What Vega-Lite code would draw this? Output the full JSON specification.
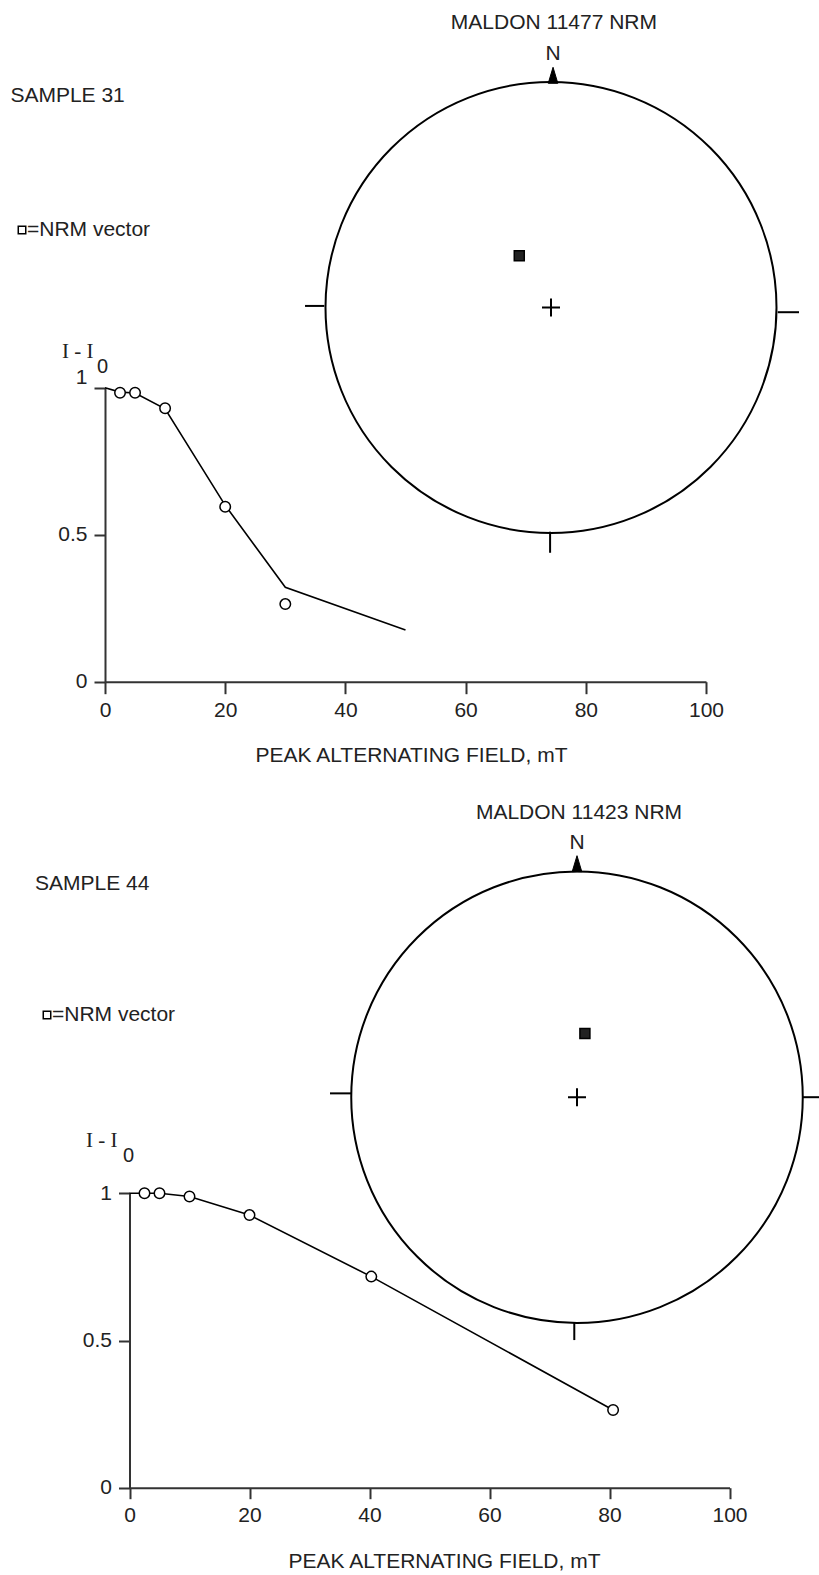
{
  "$schema": "https://vega.github.io/schema/vega-lite/v6.json",
  "width": 819,
  "height": 1575,
  "autosize": {"type": "none"},
  "padding": 0,
  "background": "white",
  "config": {
    "view": {"stroke": null},
    "font": "Liberation Sans",
    "axis": {
      "domainColor": "#333", "domainWidth": 2, "tickColor": "#333", "tickWidth": 2, "grid": false,
      "labelFont": "Liberation Sans", "labelFontSize": 21, "labelColor": "#222",
      "titleFont": "Liberation Sans", "titleFontSize": 21, "titleFontWeight": "normal", "titleColor": "#222",
      "labelFlush": false, "labelOverlap": false
    }
  },
  "datasets": {
    "s31_steps": [
      {"field": 2.5, "ratio": 0.983}, {"field": 5, "ratio": 0.983}, {"field": 10, "ratio": 0.93},
      {"field": 20, "ratio": 0.595}, {"field": 30, "ratio": 0.264}
    ],
    "s31_fit": [
      {"field": 0, "ratio": 1.0}, {"field": 2.5, "ratio": 0.985}, {"field": 5, "ratio": 0.982},
      {"field": 10, "ratio": 0.928}, {"field": 20, "ratio": 0.6}, {"field": 30, "ratio": 0.321},
      {"field": 50, "ratio": 0.176}
    ],
    "s44_steps": [
      {"field": 2.5, "ratio": 1.0}, {"field": 5, "ratio": 1.0}, {"field": 10, "ratio": 0.989},
      {"field": 20, "ratio": 0.926}, {"field": 40.3, "ratio": 0.717}, {"field": 80.6, "ratio": 0.264}
    ],
    "s44_fit": [
      {"field": 0, "ratio": 1.0}, {"field": 2.5, "ratio": 1.0}, {"field": 5, "ratio": 1.0},
      {"field": 10, "ratio": 0.989}, {"field": 20, "ratio": 0.926}, {"field": 40.3, "ratio": 0.717},
      {"field": 80.6, "ratio": 0.264}
    ],
    "net31_origin": [{"east": 0, "north": 0}],
    "net31_pole": [{"east": 0.009, "north": 1}],
    "net31_nrm": [{"east": -0.14, "north": 0.231}],
    "net31_ticks": [
      {"east": -1.085, "north": 0.007, "east2": -1, "north2": 0.007},
      {"east": 1, "north": -0.021, "east2": 1.094, "north2": -0.021},
      {"east": -0.004, "north": -1, "east2": -0.004, "north2": -1.094}
    ],
    "net44_origin": [{"east": 0, "north": 0}],
    "net44_pole": [{"east": 0, "north": 1}],
    "net44_nrm": [{"east": 0.035, "north": 0.283}],
    "net44_ticks": [
      {"east": -1.093, "north": 0.017, "east2": -1, "north2": 0.017},
      {"east": 1, "north": 0, "east2": 1.08, "north2": 0},
      {"east": -0.012, "north": -1, "east2": -0.012, "north2": -1.077}
    ]
  },
  "layer": [
    {
      "layer": [
        {
          "data": {"name": "s31_fit"},
          "mark": {"type": "line", "color": "black", "strokeWidth": 1.6},
          "encoding": {
            "x": {"field": "field", "type": "quantitative",
              "scale": {"domain": [0, 100], "range": [105, 706], "nice": false, "zero": false},
              "axis": {"orient": "bottom", "offset": -893.3, "values": [0, 20, 40, 60, 80, 100], "format": "d",
                "tickSize": 12, "labelPadding": 6, "title": "PEAK ALTERNATING FIELD, mT",
                "titleX": 411, "titleY": 80, "titleBaseline": "alphabetic"}},
            "y": {"field": "ratio", "type": "quantitative",
              "scale": {"domain": [0, 1], "range": [681.7, 387.7], "nice": false, "zero": false},
              "axis": {"orient": "left", "offset": -105, "values": [0, 0.5, 1], "format": "~g",
                "tickSize": 11, "labelPadding": 7, "title": null,
                "labelOffset": {"condition": {"test": "datum.value === 1", "value": -10}, "value": 0}}}
          }
        },
        {
          "data": {"name": "s31_steps"},
          "mark": {"type": "point", "shape": "circle", "size": 110, "filled": true, "fill": "white", "stroke": "black", "strokeWidth": 1.5, "opacity": 1},
          "encoding": {
            "x": {"field": "field", "type": "quantitative"},
            "y": {"field": "ratio", "type": "quantitative"}
          }
        },
        {
          "data": {"values": [{"label": "SAMPLE 31"}]},
          "mark": {"type": "text", "align": "left", "baseline": "middle", "font": "Liberation Sans", "fontSize": 21, "color": "#222"},
          "encoding": {"x": {"datum": -15.74}, "y": {"datum": 1.992}, "text": {"field": "label"}}
        },
        {
          "data": {"values": [{"label": "=NRM vector"}]},
          "mark": {"type": "text", "align": "left", "baseline": "middle", "font": "Liberation Sans", "fontSize": 21, "color": "#222"},
          "encoding": {"x": {"datum": -12.98}, "y": {"datum": 1.536}, "text": {"field": "label"}}
        },
        {
          "data": {"values": [{"label": "NRM vector"}]},
          "mark": {"type": "point", "shape": "square", "size": 56, "filled": false, "stroke": "black", "strokeWidth": 1.5, "opacity": 1},
          "encoding": {"x": {"datum": -13.81}, "y": {"datum": 1.536}}
        },
        {
          "data": {"values": [{"label": "I - I"}]},
          "mark": {"type": "text", "align": "left", "baseline": "alphabetic", "font": "Liberation Serif", "fontSize": 21, "color": "#222"},
          "encoding": {"x": {"datum": -7.155}, "y": {"datum": 1.101}, "text": {"field": "label"}}
        },
        {
          "data": {"values": [{"label": "0"}]},
          "mark": {"type": "text", "align": "left", "baseline": "alphabetic", "font": "Liberation Sans", "fontSize": 20, "color": "#222"},
          "encoding": {"x": {"datum": -1.331}, "y": {"datum": 1.05}, "text": {"field": "label"}}
        }
      ]
    },
    {
      "layer": [
        {
          "data": {"name": "s44_fit"},
          "mark": {"type": "line", "color": "black", "strokeWidth": 1.6},
          "encoding": {
            "x": {"field": "field", "type": "quantitative",
              "scale": {"domain": [0, 100], "range": [129.5, 729.5], "nice": false, "zero": false},
              "axis": {"orient": "bottom", "offset": -87.3, "values": [0, 20, 40, 60, 80, 100], "format": "d",
                "tickSize": 11, "labelPadding": 6, "title": "PEAK ALTERNATING FIELD, mT",
                "titleX": 444, "titleY": 80, "titleBaseline": "alphabetic"}},
            "y": {"field": "ratio", "type": "quantitative",
              "scale": {"domain": [0, 1], "range": [1487.7, 1193.3], "nice": false, "zero": false},
              "axis": {"orient": "left", "offset": -129.5, "values": [0, 0.5, 1], "format": "~g",
                "tickSize": 11, "labelPadding": 7, "title": null}}
          }
        },
        {
          "data": {"name": "s44_steps"},
          "mark": {"type": "point", "shape": "circle", "size": 110, "filled": true, "fill": "white", "stroke": "black", "strokeWidth": 1.5, "opacity": 1},
          "encoding": {
            "x": {"field": "field", "type": "quantitative"},
            "y": {"field": "ratio", "type": "quantitative"}
          }
        },
        {
          "data": {"values": [{"label": "SAMPLE 44"}]},
          "mark": {"type": "text", "align": "left", "baseline": "middle", "font": "Liberation Sans", "fontSize": 21, "color": "#222"},
          "encoding": {"x": {"datum": -15.75}, "y": {"datum": 2.049}, "text": {"field": "label"}}
        },
        {
          "data": {"values": [{"label": "=NRM vector"}]},
          "mark": {"type": "text", "align": "left", "baseline": "middle", "font": "Liberation Sans", "fontSize": 21, "color": "#222"},
          "encoding": {"x": {"datum": -12.92}, "y": {"datum": 1.606}, "text": {"field": "label"}}
        },
        {
          "data": {"values": [{"label": "NRM vector"}]},
          "mark": {"type": "point", "shape": "square", "size": 56, "filled": false, "stroke": "black", "strokeWidth": 1.5, "opacity": 1},
          "encoding": {"x": {"datum": -13.75}, "y": {"datum": 1.606}}
        },
        {
          "data": {"values": [{"label": "I - I"}]},
          "mark": {"type": "text", "align": "left", "baseline": "alphabetic", "font": "Liberation Serif", "fontSize": 21, "color": "#222"},
          "encoding": {"x": {"datum": -7.25}, "y": {"datum": 1.157}, "text": {"field": "label"}}
        },
        {
          "data": {"values": [{"label": "0"}]},
          "mark": {"type": "text", "align": "left", "baseline": "alphabetic", "font": "Liberation Sans", "fontSize": 20, "color": "#222"},
          "encoding": {"x": {"datum": -1.083}, "y": {"datum": 1.106}, "text": {"field": "label"}}
        }
      ]
    },
    {
      "layer": [
        {
          "data": {"name": "net31_origin"},
          "mark": {"type": "point", "shape": "circle", "size": 203401, "filled": false, "stroke": "black", "strokeWidth": 2, "opacity": 1},
          "encoding": {
            "x": {"field": "east", "type": "quantitative", "scale": {"domain": [-1, 1], "range": [324.3, 777.7], "nice": false, "zero": false}, "axis": null},
            "y": {"field": "north", "type": "quantitative", "scale": {"domain": [-1, 1], "range": [531.7, 83.3], "nice": false, "zero": false}, "axis": null}
          }
        },
        {
          "data": {"name": "net31_origin"},
          "mark": {"type": "point", "shape": "M-1,0L1,0M0,-1L0,1", "size": 324, "filled": false, "stroke": "black", "strokeWidth": 2, "opacity": 1},
          "encoding": {"x": {"field": "east", "type": "quantitative", "axis": null}, "y": {"field": "north", "type": "quantitative", "axis": null}}
        },
        {
          "data": {"name": "net31_ticks"},
          "mark": {"type": "rule", "color": "black", "strokeWidth": 2},
          "encoding": {
            "x": {"field": "east", "type": "quantitative", "axis": null}, "y": {"field": "north", "type": "quantitative", "axis": null},
            "x2": {"field": "east2"}, "y2": {"field": "north2"}
          }
        },
        {
          "data": {"name": "net31_pole"},
          "mark": {"type": "point", "shape": "M0,-2L0.6,0L-0.6,0Z", "size": 256, "filled": true, "fill": "black", "stroke": "black", "strokeWidth": 1, "opacity": 1},
          "encoding": {"x": {"field": "east", "type": "quantitative", "axis": null}, "y": {"field": "north", "type": "quantitative", "axis": null}}
        },
        {
          "data": {"name": "net31_pole"},
          "mark": {"type": "text", "align": "center", "baseline": "middle", "dy": -29, "font": "Liberation Sans", "fontSize": 21, "color": "#222"},
          "encoding": {"x": {"field": "east", "type": "quantitative", "axis": null}, "y": {"field": "north", "type": "quantitative", "axis": null}, "text": {"value": "N"}}
        },
        {
          "data": {"values": [{"label": "MALDON 11477 NRM"}]},
          "mark": {"type": "text", "align": "center", "baseline": "middle", "font": "Liberation Sans", "fontSize": 21, "color": "#222"},
          "encoding": {"x": {"datum": 0.013, "axis": null}, "y": {"datum": 1.271, "axis": null}, "text": {"field": "label"}}
        },
        {
          "data": {"name": "net31_nrm"},
          "mark": {"type": "point", "shape": "square", "size": 100, "filled": true, "fill": "#222", "stroke": "black", "strokeWidth": 1.5, "opacity": 1},
          "encoding": {"x": {"field": "east", "type": "quantitative", "axis": null}, "y": {"field": "north", "type": "quantitative", "axis": null}}
        }
      ]
    },
    {
      "layer": [
        {
          "data": {"name": "net44_origin"},
          "mark": {"type": "point", "shape": "circle", "size": 203852, "filled": false, "stroke": "black", "strokeWidth": 2, "opacity": 1},
          "encoding": {
            "x": {"field": "east", "type": "quantitative", "scale": {"domain": [-1, 1], "range": [351, 803], "nice": false, "zero": false}, "axis": null},
            "y": {"field": "north", "type": "quantitative", "scale": {"domain": [-1, 1], "range": [1322.7, 871.7], "nice": false, "zero": false}, "axis": null}
          }
        },
        {
          "data": {"name": "net44_origin"},
          "mark": {"type": "point", "shape": "M-1,0L1,0M0,-1L0,1", "size": 324, "filled": false, "stroke": "black", "strokeWidth": 2, "opacity": 1},
          "encoding": {"x": {"field": "east", "type": "quantitative", "axis": null}, "y": {"field": "north", "type": "quantitative", "axis": null}}
        },
        {
          "data": {"name": "net44_ticks"},
          "mark": {"type": "rule", "color": "black", "strokeWidth": 2},
          "encoding": {
            "x": {"field": "east", "type": "quantitative", "axis": null}, "y": {"field": "north", "type": "quantitative", "axis": null},
            "x2": {"field": "east2"}, "y2": {"field": "north2"}
          }
        },
        {
          "data": {"name": "net44_pole"},
          "mark": {"type": "point", "shape": "M0,-2L0.6,0L-0.6,0Z", "size": 256, "filled": true, "fill": "black", "stroke": "black", "strokeWidth": 1, "opacity": 1},
          "encoding": {"x": {"field": "east", "type": "quantitative", "axis": null}, "y": {"field": "north", "type": "quantitative", "axis": null}}
        },
        {
          "data": {"name": "net44_pole"},
          "mark": {"type": "text", "align": "center", "baseline": "middle", "dy": -29, "font": "Liberation Sans", "fontSize": 21, "color": "#222"},
          "encoding": {"x": {"field": "east", "type": "quantitative", "axis": null}, "y": {"field": "north", "type": "quantitative", "axis": null}, "text": {"value": "N"}}
        },
        {
          "data": {"values": [{"label": "MALDON 11423 NRM"}]},
          "mark": {"type": "text", "align": "center", "baseline": "middle", "font": "Liberation Sans", "fontSize": 21, "color": "#222"},
          "encoding": {"x": {"datum": 0.009, "axis": null}, "y": {"datum": 1.26, "axis": null}, "text": {"field": "label"}}
        },
        {
          "data": {"name": "net44_nrm"},
          "mark": {"type": "point", "shape": "square", "size": 100, "filled": true, "fill": "#222", "stroke": "black", "strokeWidth": 1.5, "opacity": 1},
          "encoding": {"x": {"field": "east", "type": "quantitative", "axis": null}, "y": {"field": "north", "type": "quantitative", "axis": null}}
        }
      ]
    }
  ],
  "resolve": {
    "scale": {"x": "independent", "y": "independent"},
    "axis": {"x": "independent", "y": "independent"}
  }
}
